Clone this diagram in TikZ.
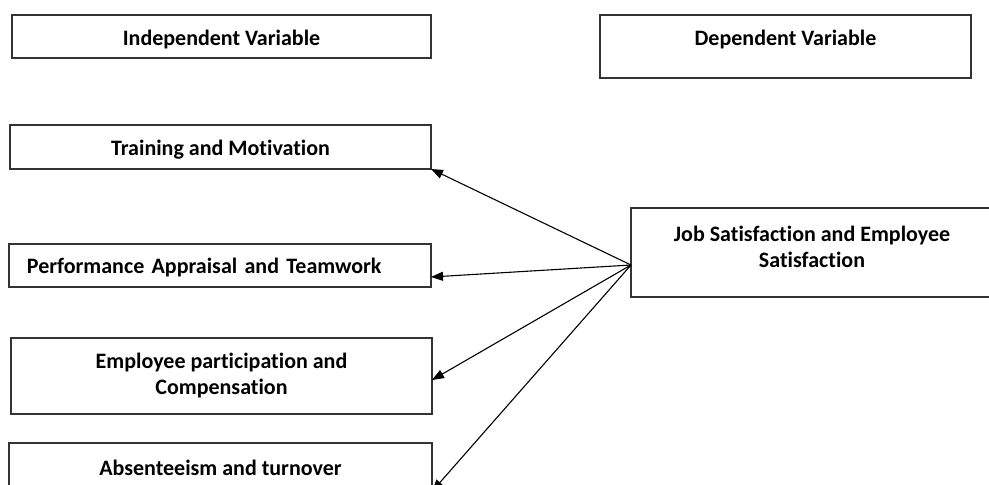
\documentclass[tikz,border=0pt]{standalone}
\usepackage{fontspec}
\setmainfont{Carlito}[Ligatures=NoCommon]
\usetikzlibrary{arrows.meta}

\tikzset{
    varbox/.style={draw=black!80, line width=1.1pt, inner sep=0pt, outer sep=0pt,
        align=center, font=\fontsize{22}{26}\selectfont\bfseries},
    link/.style={line width=1.1pt, -{Triangle[length=12pt,width=9pt]}}
}

\begin{document}
\begin{tikzpicture}[x=1pt, y=-1pt]
    \useasboundingbox (0,0) rectangle (989,485);

    % Draw headings
    \node[varbox, minimum width=419pt, minimum height=43pt, text height=22pt, text depth=5pt] (indep) at (221.5, 36.5) {Independent Variable};
    \node[varbox, minimum width=371pt, minimum height=63pt, text height=17pt, text depth=20pt] (dep) at (785.5, 46.5) {Dependent Variable};

    % Draw nodes for the independent variables
    \node[varbox, minimum width=421pt, minimum height=44pt, text height=22pt, text depth=5pt] (train) at (220.5, 147) {Training and Motivation};
    \node[varbox, minimum width=422pt, minimum height=43pt, text height=21pt, text depth=5pt, text width=386pt, align=left, inner xsep=18pt] (perf) at (220, 265.5) {Performance Appraisal and Teamwork};
    \node[varbox, minimum width=421pt, minimum height=76pt] (emp) at (221.5, 376) {Employee participation and\\Compensation};
    \node[varbox, minimum width=423pt, minimum height=57pt, text height=17pt, text depth=10pt] (absent) at (220.5, 471.5) {Absenteeism and turnover};

    % Draw node for the dependent variable
    \node[varbox, minimum width=362pt, minimum height=89pt] (job) at (812, 252.5) {Job Satisfaction and Employee\\Satisfaction\\[-14pt]\mbox{}};
    \coordinate (src) at ([yshift=-12.5pt]job.west);

    % Draw all links (directed)
    \draw[link] (src) -- (train.south east); % Job to training
    \draw[link] (src) -- ([yshift=-11.5pt]perf.east); % Job to performance
    \draw[link] (src) -- ([yshift=-4pt]emp.east); % Job to participation
    \draw[link] (src) -- ([yshift=-20pt]absent.east); % Job to absenteeism

\end{tikzpicture}
\end{document}
